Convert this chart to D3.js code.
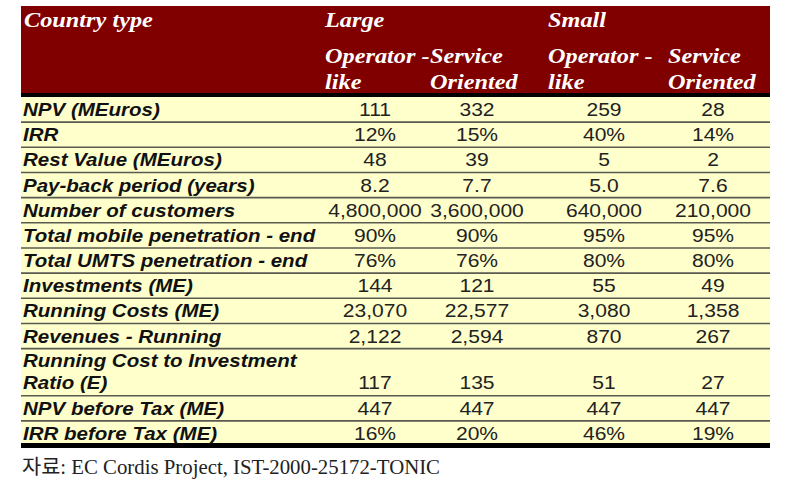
<!DOCTYPE html>
<html><head><meta charset="utf-8">
<script src="https://cdn.jsdelivr.net/npm/d3@7"></script>
<style>
html,body{margin:0;padding:0;background:#fff;}
svg{display:block;}
</style></head>
<body>
<svg id="c" width="790" height="491"></svg>
<script>
// ---- data ----
const groups = ["Large", "Small"];
const columnHeads = [["Operator -", "like"], ["Service", "Oriented"], ["Operator -", "like"], ["Service", "Oriented"]];
const rowLabels = [
  ["NPV (MEuros)"], ["IRR"], ["Rest Value (MEuros)"], ["Pay-back period (years)"],
  ["Number of customers"], ["Total mobile penetration - end"], ["Total UMTS penetration - end"],
  ["Investments (ME)"], ["Running Costs (ME)"], ["Revenues - Running"],
  ["Running Cost to Investment", "Ratio (E)"], ["NPV before Tax (ME)"], ["IRR before Tax (ME)"]
];
const largeOperator = ["111","12%","48","8.2","4,800,000","90%","76%","144","23,070","2,122","117","447","16%"];
const largeService  = ["332","15%","39","7.7","3,600,000","90%","76%","121","22,577","2,594","135","447","20%"];
const smallOperator = ["259","40%","5","5.0","640,000","95%","80%","55","3,080","870","51","447","46%"];
const smallService  = ["28","14%","2","7.6","210,000","95%","80%","49","1,358","267","27","447","19%"];
const source = "자료: EC Cordis Project, IST-2000-25172-TONIC";

// ---- layout ----
const svg = d3.select("#c");
const L = 21, R = 770, T = 6, headB = 94, bodyT = 97, bodyB = 446;
const series = [largeOperator, largeService, smallOperator, smallService];
const colLeft = [325, 430, 548, 668];
const colCenter = [375, 477, 604, 713];

const units = rowLabels.map(r => r.length === 1 ? 1 : 1.87);
const cum = [0]; units.forEach(u => cum.push(cum[cum.length-1] + u));
const y = d3.scaleLinear().domain([0, cum[cum.length-1]]).range([bodyT, bodyB]);

function txt(x, yy, t, o) {
  return svg.append("text")
    .attr("transform", `translate(${x},${yy}) scale(${o.sx||1},1)`)
    .attr("text-anchor", o.anchor || "start")
    .attr("font-family", o.family).attr("font-weight", o.weight || "normal")
    .attr("font-style", o.style || "normal").attr("font-size", o.size)
    .attr("fill", o.fill).text(t);
}

// header
svg.append("rect").attr("x", L).attr("y", T).attr("width", R-L).attr("height", headB-T).attr("fill", "#800000");
const hf = "'Liberation Serif','Times New Roman',serif";
const hOpt = {family: hf, weight: "bold", style: "italic", size: 21.5, fill: "#fff", sx: 1.13};
txt(24, 27, "Country type", hOpt);
groups.forEach((g, i) => txt(colLeft[i*2], 27, g, hOpt));
columnHeads.forEach((lines, ci) => {
  lines.forEach((t, li) => txt(colLeft[ci], 63 + li*26, t, hOpt));
});

// body background
svg.append("rect").attr("x", L).attr("y", bodyT).attr("width", R-L).attr("height", bodyB-bodyT).attr("fill", "#FFFFCC");

// row separators
svg.selectAll("line.sep").data(cum.slice(1, -1)).join("line").attr("class","sep")
  .attr("x1", L).attr("x2", R).attr("y1", d => y(d)).attr("y2", d => y(d))
  .attr("stroke", "#5a5a50").attr("stroke-width", 1.6);

// thick black rules
svg.append("rect").attr("x", L).attr("y", headB-1).attr("width", R-L).attr("height", 4).attr("fill", "#000");
svg.append("rect").attr("x", L).attr("y", bodyB-3).attr("width", R-L).attr("height", 5).attr("fill", "#000");

const sf = "'Liberation Sans',Arial,sans-serif";
const lOpt = {family: sf, weight: "bold", style: "italic", size: 18, fill: "#111", sx: 1.14};
const vOpt = {family: sf, size: 18, fill: "#222", sx: 1.17, anchor: "middle"};
function lineY(ri, li) {
  const y0 = y(cum[ri]), y1 = y(cum[ri+1]);
  const n = rowLabels[ri].length;
  const cy = n === 1 ? (y0+y1)/2 : y0 + (y1-y0)*(li === 0 ? 0.26 : 0.73);
  return cy + 6.5;
}
rowLabels.forEach((lines, ri) => {
  lines.forEach((t, li) => txt(23, lineY(ri, li), t, lOpt));
});
series.forEach((vals, ci) => {
  vals.forEach((v, ri) => txt(colCenter[ci], lineY(ri, rowLabels[ri].length - 1), v, vOpt));
});

// source
svg.append("text").attr("x", 22).attr("y", 474).text(source)
  .attr("font-family", "'Liberation Serif','Noto Sans CJK KR',serif")
  .attr("font-size", 20).attr("fill", "#222")
  .attr("textLength", 418).attr("lengthAdjust", "spacingAndGlyphs");
</script>
</body></html>
